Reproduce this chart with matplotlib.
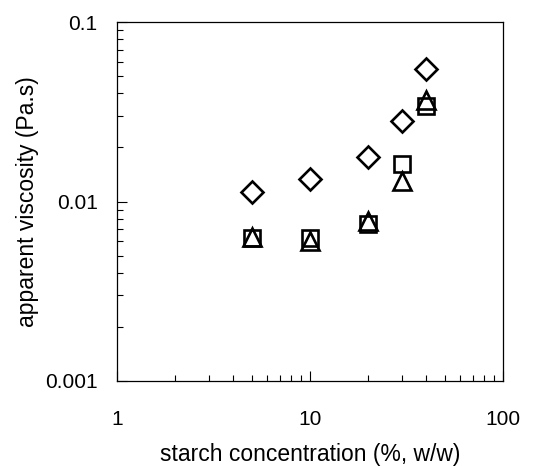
import matplotlib
matplotlib.use('Agg')
import matplotlib.pyplot as plt
from matplotlib.ticker import LogLocator, NullFormatter, FixedFormatter, FixedLocator

# starch concentration (%, w/w)
conc = [5, 10, 20, 30, 40]

# apparent viscosity (Pa.s) for the three samples
visc_diamond = [0.0113, 0.0133, 0.0176, 0.028, 0.0547]
visc_square = [0.00624, 0.0063, 0.00746, 0.0162, 0.034]
visc_triangle = [0.00637, 0.00605, 0.0078, 0.013, 0.037]

xticks = [1, 10, 100]
xticklabels = ['1', '10', '100']
yticks = [0.001, 0.01, 0.1]
yticklabels = ['0.001', '0.01', '0.1']

plt.rcParams['font.family'] = ['Liberation Sans', 'DejaVu Sans']

fig = plt.figure(figsize=(5.47, 4.66), dpi=100)
ax = fig.add_axes([117 / 547, 1 - 381 / 466, (503 - 117) / 547, (381 - 22) / 466])

style = dict(linestyle='none', mfc='none', mec='black', mew=1.9)
ax.plot(conc, visc_diamond, marker='D', markersize=11, **style)
ax.plot(conc, visc_square, marker='s', markersize=11, **style)
ax.plot(conc, visc_triangle, marker='^', markersize=13, **style)

ax.set_xscale('log')
ax.set_yscale('log')
ax.set_xlim(1, 100)
ax.set_ylim(0.001, 0.1)

ax.xaxis.set_major_locator(FixedLocator(xticks))
ax.xaxis.set_major_formatter(FixedFormatter(xticklabels))
ax.yaxis.set_major_locator(FixedLocator(yticks))
ax.yaxis.set_major_formatter(FixedFormatter(yticklabels))
ax.xaxis.set_minor_locator(LogLocator(base=10, subs=range(2, 10)))
ax.yaxis.set_minor_locator(LogLocator(base=10, subs=range(2, 10)))
ax.xaxis.set_minor_formatter(NullFormatter())
ax.yaxis.set_minor_formatter(NullFormatter())

ax.tick_params(which='both', direction='in', top=False, right=False,
               labelsize=15, width=0.8)
ax.tick_params(axis='x', which='major', length=7, pad=21)
ax.tick_params(axis='y', which='major', length=7, pad=14)
ax.tick_params(which='minor', length=4)

for spine in ax.spines.values():
    spine.set_linewidth(0.9)

ax.set_xlabel('starch concentration (%, w/w)', fontsize=16.5, labelpad=10)
ax.set_ylabel('apparent viscosity (Pa.s)', fontsize=16.5, labelpad=4)

plt.savefig('out.png', dpi=100)
